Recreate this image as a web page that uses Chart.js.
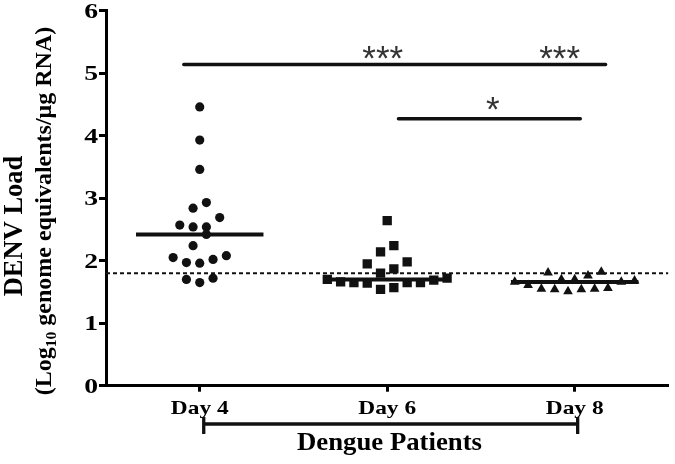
<!DOCTYPE html>
<html>
<head>
<meta charset="utf-8">
<script src="https://cdn.jsdelivr.net/npm/chart.js@4.4.1/dist/chart.umd.min.js"></script>
<style>
    html, body { margin: 0; padding: 0; background: #fff; }
    .canvas-wrap { width: 675px; height: 464px; }
</style>
</head>
<body>
<div class="canvas-wrap"><canvas id="loadChart" width="675" height="464"></canvas></div>
<script>
// values (Log10 genome equivalents / ug RNA)
const days = ['Day 4', 'Day 6', 'Day 8'];
const day4Load = [4.46, 3.93, 3.46, 2.93, 2.84, 2.69, 2.57, 2.54, 2.54, 2.42, 2.24, 2.08, 2.05, 2.02, 1.97, 1.96, 1.72, 1.70, 1.65];
const day6Load = [2.64, 2.24, 2.14, 1.98, 1.95, 1.87, 1.80, 1.72, 1.70, 1.69, 1.66, 1.65, 1.65, 1.65, 1.64, 1.57, 1.54];
const day8Load = [1.82, 1.81, 1.76, 1.70, 1.70, 1.68, 1.66, 1.66, 1.61, 1.56, 1.55, 1.55, 1.54, 1.54, 1.51];
const detectionLimit = [1.8];
const yTicks = [0, 1, 2, 3, 4, 5, 6];

// significance comparisons
const compFrom = ['Day 4', 'Day 4', 'Day 6'];
const compTo = ['Day 6', 'Day 8', 'Day 8'];
const compLevel = [5.14, 5.14, 4.27];
const compStars = ['***', '***', '*'];

(function () {
    const INK = '#111';
    const SERIF = '"Liberation Serif", "Times New Roman", serif';
    const LANE = 0.071;      // horizontal spread step, in category units
    const ROW_H = 0.19;      // values closer than this share a row
    const MEDIAN_HALF = 0.34;

    // bracket ends / star anchors relative to the group positions
    const bracketStyle = {
        start: [-0.085, -0.085, 0.06],
        end: [0.1, 0.165, 0.03],
        label: [-0.024, -0.08, -0.437],
        labelDy: [6, 6, 2.5]
    };

    function median(values) {
        const s = [...values].sort((a, b) => a - b);
        const m = Math.floor(s.length / 2);
        return s.length % 2 ? s[m] : (s[m - 1] + s[m]) / 2;
    }

    // column-scatter layout: close values share a row, spread around the centre
    function swarm(values, groupIndex) {
        const order = values.map((v, i) => i).sort((a, b) => values[a] - values[b]);
        const lanes = new Array(values.length).fill(0);
        let row = [];
        const flush = () => {
            const n = row.length;
            row.forEach((i, k) => {
                lanes[i] = n % 2
                    ? (k % 2 ? -1 : 1) * Math.ceil(k / 2)
                    : (k % 2 ? 1 : -1) * (Math.floor(k / 2) + 0.5);
            });
            row = [];
        };
        order.forEach(i => {
            if (row.length && values[i] - values[row[0]] >= ROW_H - 1e-9) flush();
            row.push(i);
        });
        flush();
        return values.map((v, i) => ({ x: groupIndex + lanes[i] * LANE, y: v }));
    }

    const groups = [day4Load, day6Load, day8Load];
    const styles = [
        { pointStyle: 'circle', radius: 4.6 },
        { pointStyle: 'rect', radius: 6.6 },
        { pointStyle: 'triangle', radius: 5.6 }
    ];

    const medianData = [];
    groups.forEach((vals, g) => {
        const m = median(vals);
        medianData.push({ x: g - MEDIAN_HALF, y: m }, { x: g + MEDIAN_HALF, y: m }, { x: g + 0.5, y: null });
    });

    const compData = [];
    compFrom.forEach((from, i) => {
        const a = days.indexOf(from) + bracketStyle.start[i];
        const b = days.indexOf(compTo[i]) + bracketStyle.end[i];
        compData.push({ x: a, y: compLevel[i] }, { x: b, y: compLevel[i] }, { x: b + 0.01, y: null });
    });

    const datasets = [
        {
            type: 'line',
            data: [{ x: -0.5, y: detectionLimit[0] }, { x: 2.5, y: detectionLimit[0] }],
            borderColor: INK,
            borderWidth: 2,
            borderDash: [4, 3],
            pointRadius: 0,
            order: 5
        },
        ...groups.map((vals, g) => ({
            type: 'scatter',
            data: swarm(vals, g),
            pointStyle: styles[g].pointStyle,
            pointRadius: styles[g].radius,
            backgroundColor: INK,
            borderColor: INK,
            borderWidth: 0,
            order: 3
        })),
        {
            type: 'line',
            data: medianData,
            borderColor: INK,
            borderWidth: 4,
            pointRadius: 0,
            spanGaps: false,
            order: 1
        },
        {
            type: 'line',
            data: compData,
            borderColor: INK,
            borderWidth: 3.5,
            borderCapStyle: 'round',
            pointRadius: 0,
            spanGaps: false,
            order: 1
        }
    ];

    // text stretched horizontally like the original export
    function stretchedText(ctx, text, x, y, sx, align) {
        const w = ctx.measureText(text).width * sx;
        let left = x;
        if (align === 'center') left = x - w / 2;
        if (align === 'right') left = x - w;
        ctx.save();
        ctx.translate(left, y);
        ctx.scale(sx, 1);
        ctx.textAlign = 'left';
        ctx.fillText(text, 0, 0);
        ctx.restore();
    }

    const annotations = {
        id: 'annotations',
        afterDraw(chart) {
            const ctx = chart.ctx;
            const x = chart.scales.x;
            const y = chart.scales.y;
            ctx.save();
            ctx.textBaseline = 'alphabetic';

            // tick labels
            ctx.fillStyle = '#000';
            ctx.font = 'bold 20.5px ' + SERIF;
            yTicks.forEach(v => {
                stretchedText(ctx, String(v), x.left - 8, y.getPixelForValue(v) + 7, 1.35, 'right');
            });
            ctx.font = 'bold 19.5px ' + SERIF;
            days.forEach((d, i) => {
                stretchedText(ctx, d, x.getPixelForValue(i), 414, 1.2, 'center');
            });

            // stars
            ctx.fillStyle = '#333';
            ctx.font = '35px "Liberation Sans", Arial, sans-serif';
            compStars.forEach((s, i) => {
                const to = days.indexOf(compTo[i]);
                const px = x.getPixelForValue(to + bracketStyle.label[i]);
                const py = y.getPixelForValue(compLevel[i]) + bracketStyle.labelDy[i];
                stretchedText(ctx, s, px, py, 1, 'center');
            });

            // bracket under the day labels
            const a = x.getPixelForValue(0) + 4;
            const b = x.getPixelForValue(days.length - 1) + 3;
            const by = 424;
            ctx.strokeStyle = INK;
            ctx.lineWidth = 3.3;
            ctx.beginPath();
            ctx.moveTo(a, by); ctx.lineTo(b, by);
            ctx.moveTo(a, by - 7); ctx.lineTo(a, by + 10);
            ctx.moveTo(b, by - 7); ctx.lineTo(b, by + 10);
            ctx.stroke();

            ctx.fillStyle = '#000';
            ctx.font = 'bold 25px ' + SERIF;
            stretchedText(ctx, 'Dengue Patients', 389.5, 450, 1.07, 'center');

            // y title with subscript
            ctx.save();
            ctx.translate(21.5, 226);
            ctx.rotate(-Math.PI / 2);
            ctx.font = 'bold 26.5px ' + SERIF;
            ctx.textAlign = 'center';
            ctx.fillText('DENV Load', 0, 0);
            ctx.restore();

            const parts = [
                { t: '(Log', size: 24, dy: 0 },
                { t: '10', size: 15.5, dy: 5 },
                { t: ' genome equivalents/\u03bcg RNA)', size: 24, dy: 0 }
            ];
            ctx.save();
            ctx.translate(51, 211);
            ctx.rotate(-Math.PI / 2);
            ctx.textAlign = 'left';
            let total = 0;
            parts.forEach(p => {
                ctx.font = 'bold ' + p.size + 'px ' + SERIF;
                p.w = ctx.measureText(p.t).width;
                total += p.w;
            });
            let cx = -total / 2;
            parts.forEach(p => {
                ctx.font = 'bold ' + p.size + 'px ' + SERIF;
                ctx.fillText(p.t, cx, p.dy);
                cx += p.w;
            });
            ctx.restore();

            ctx.restore();
        }
    };

    new Chart(document.getElementById('loadChart'), {
        type: 'scatter',
        data: { datasets },
        options: {
            responsive: false,
            animation: false,
            layout: { padding: { left: 99, right: 6.5, top: 10.7, bottom: 72.3 } },
            plugins: {
                legend: { display: false },
                tooltip: { enabled: false }
            },
            scales: {
                x: {
                    type: 'linear',
                    min: -0.5,
                    max: 2.5,
                    afterBuildTicks: scale => {
                        scale.ticks = days.map((d, i) => ({ value: i }));
                    },
                    ticks: { display: false },
                    grid: {
                        drawOnChartArea: false,
                        tickLength: 6,
                        tickWidth: 3,
                        tickColor: '#000'
                    },
                    border: { color: '#000', width: 3 }
                },
                y: {
                    min: 0,
                    max: 6,
                    afterBuildTicks: scale => {
                        scale.ticks = yTicks.map(v => ({ value: v }));
                    },
                    ticks: { display: false },
                    grid: {
                        drawOnChartArea: false,
                        tickLength: 7,
                        tickWidth: 3,
                        tickColor: '#000'
                    },
                    border: { color: '#000', width: 3 }
                }
            }
        },
        plugins: [annotations]
    });
})();
</script>
</body>
</html>
